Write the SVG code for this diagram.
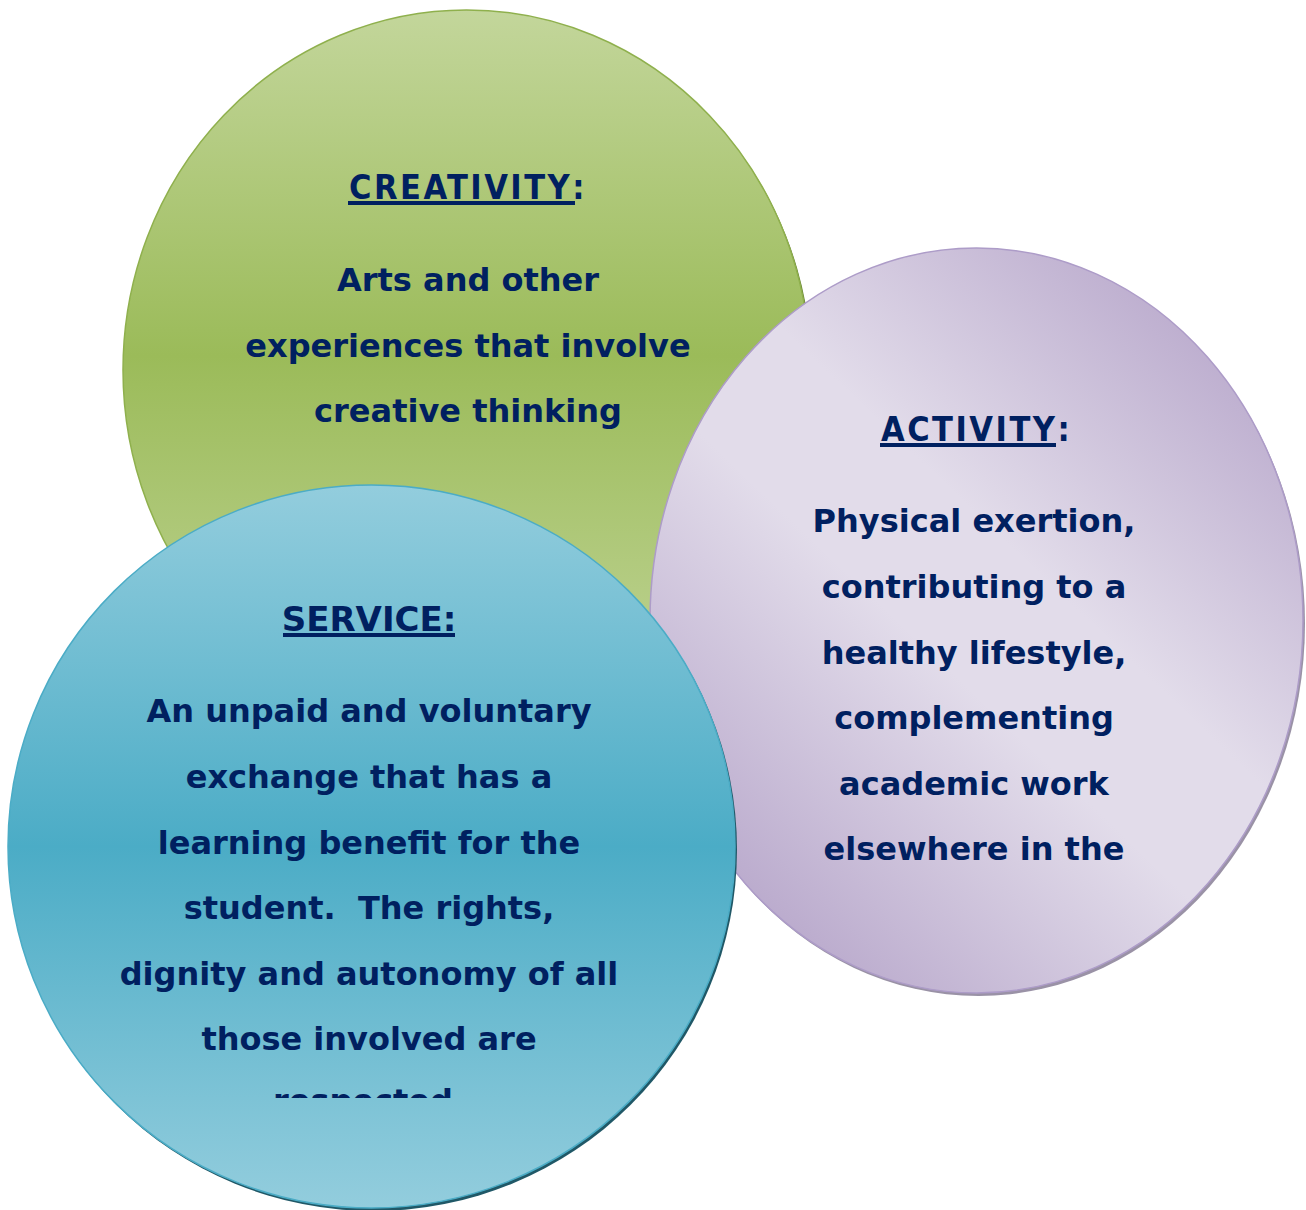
<svg xmlns="http://www.w3.org/2000/svg" width="1306" height="1210" viewBox="0 0 1306 1210">
<style>
.body{font-family:"DejaVu Sans","Verdana",sans-serif;font-weight:bold;font-size:32px;fill:#002060;text-anchor:middle}
.head{font-family:"DejaVu Sans Condensed","DejaVu Sans",sans-serif;font-weight:bold;font-size:34px;fill:#002060;letter-spacing:2.5px}
.head2{font-family:"DejaVu Sans",sans-serif;font-weight:bold;font-size:34px;fill:#002060;text-anchor:middle}
.ul{fill:#002060}
</style>
<defs>
<linearGradient id="gGreen" x1="0" y1="0" x2="0" y2="1">
<stop offset="0" stop-color="#c3d69b"/>
<stop offset="0.48" stop-color="#9bbb59"/>
<stop offset="1" stop-color="#c3d69b"/>
</linearGradient>
<linearGradient id="gBlue" x1="0" y1="0" x2="0" y2="1">
<stop offset="0" stop-color="#93cddd"/>
<stop offset="0.5" stop-color="#4bacc6"/>
<stop offset="1" stop-color="#93cddd"/>
</linearGradient>
<linearGradient id="gPurple" x1="0.9" y1="0.05" x2="0.15" y2="0.95">
<stop offset="0" stop-color="#b5a4c9"/>
<stop offset="0.42" stop-color="#e2dcea"/>
<stop offset="0.58" stop-color="#e2dcea"/>
<stop offset="1" stop-color="#b5a4c9"/>
</linearGradient>
<clipPath id="clipService"><rect x="0" y="480" width="740" height="618"/></clipPath>
</defs>

<g id="creativity">
<ellipse cx="468.5" cy="373" rx="343.5" ry="360" fill="#5f7a2e"/>
<ellipse cx="466.5" cy="370" rx="343.5" ry="360" fill="url(#gGreen)" stroke="#8fb04d" stroke-width="1.5"/>
<text x="349" y="199" class="head">CREATIVITY<tspan letter-spacing="0">:</tspan></text>
<rect class="ul" x="348" y="201" width="227" height="4"/>
<text class="body" x="468" y="291">Arts and other</text>
<text class="body" x="468" y="356.5">experiences that involve</text>
<text class="body" x="468" y="422">creative thinking</text>
</g>

<g id="activity">
<ellipse cx="978.5" cy="623.5" rx="326.5" ry="372.5" fill="#9a92a6"/>
<ellipse cx="976.5" cy="620.5" rx="326.5" ry="372.5" fill="url(#gPurple)" stroke="#ad9cc8" stroke-width="1.5"/>
<text x="881" y="441" class="head">ACTIVITY<tspan letter-spacing="0">:</tspan></text>
<rect class="ul" x="880" y="443" width="176" height="4"/>
<text class="body" x="974" y="532">Physical exertion,</text>
<text class="body" x="974" y="598">contributing to a</text>
<text class="body" x="974" y="663.5">healthy lifestyle,</text>
<text class="body" x="974" y="729">complementing</text>
<text class="body" x="974" y="794.5">academic work</text>
<text class="body" x="974" y="860">elsewhere in the</text>
</g>

<g id="service">
<ellipse cx="373.5" cy="849.5" rx="363.5" ry="361.5" fill="#205867"/>
<ellipse cx="371.5" cy="846.5" rx="363.5" ry="361.5" fill="url(#gBlue)" stroke="#4bacc6" stroke-width="1.5"/>
<text x="369" y="631" class="head2">SERVICE:</text>
<rect class="ul" x="283" y="633" width="172" height="4"/>
<g clip-path="url(#clipService)">
<text class="body" x="369" y="722">An unpaid and voluntary</text>
<text class="body" x="369" y="788">exchange that has a</text>
<text class="body" x="369" y="853.5">learning benefit for the</text>
<text class="body" x="369" y="919" xml:space="preserve">student.  The rights,</text>
<text class="body" x="369" y="984.5">dignity and autonomy of all</text>
<text class="body" x="369" y="1050">those involved are</text>
<text class="body" x="369" y="1112">respected.</text>
</g>
</g>

<g id="connectors"></g>
</svg>
